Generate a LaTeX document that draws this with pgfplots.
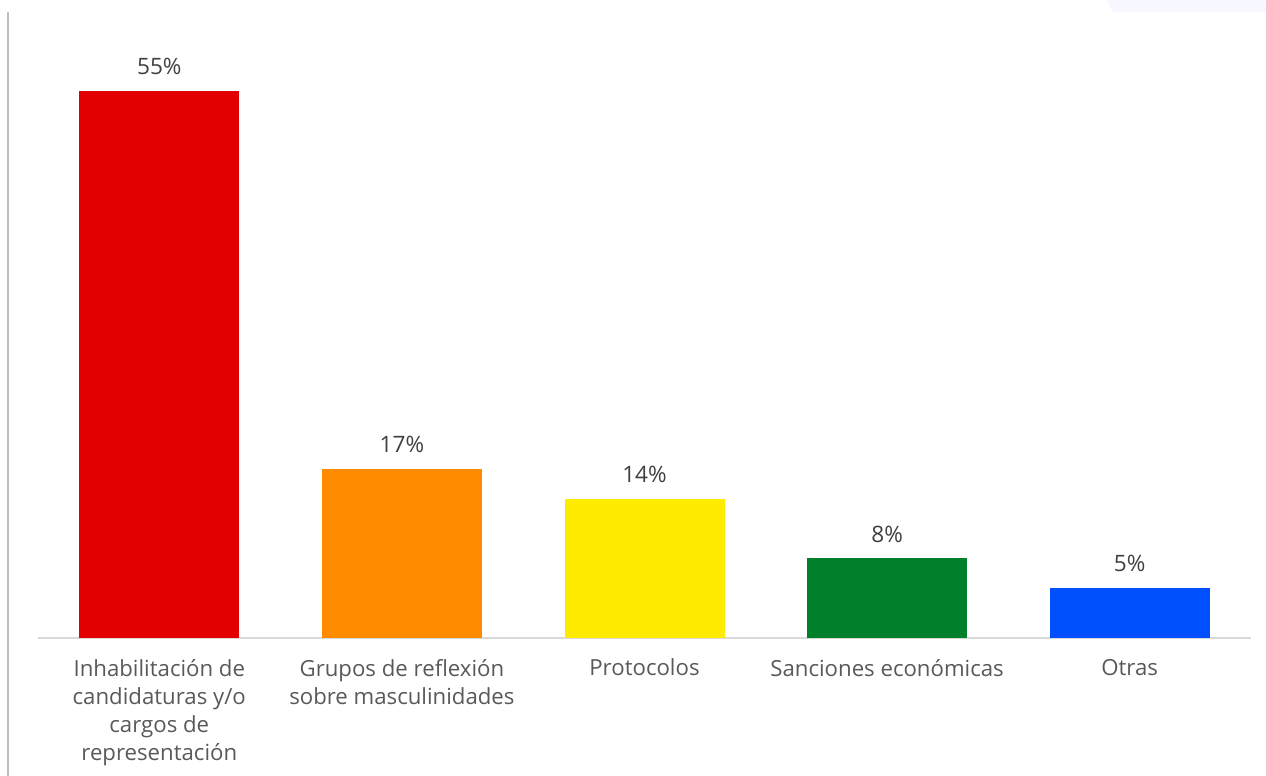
\documentclass[border=0pt]{standalone}
\usepackage{pgfplots}
\pgfplotsset{compat=1.18}
\usepackage{fontspec}
\setmainfont{Open Sans}
\definecolor{txt}{HTML}{595959}
\definecolor{lbl}{HTML}{404040}
\definecolor{cRed}{HTML}{E30000}
\definecolor{cOrange}{HTML}{FF8C00}
\definecolor{cYellow}{HTML}{FFEB00}
\definecolor{cGreen}{HTML}{00802A}
\definecolor{cBlue}{HTML}{0050FF}
\begin{document}
\begin{tikzpicture}[x=0.5pt,y=0.5pt]
\begin{axis}[
  anchor=south west, at={(19pt,69pt)},
  scale only axis, width=606.5pt, height=298.4pt,
  xmin=-0.5, xmax=4.5, ymin=0, ymax=60,
  axis x line=bottom, axis y line=none,
  axis line style={-, draw=black!15, line width=0.6pt},
  xtick={0,1,2,3,4}, major tick length=0pt,
  xticklabels={{Inhabilitación de\\candidaturas y/o\\cargos de\\representación},
    {Grupos de reflexión\\sobre masculinidades},{Protocolos},{Sanciones económicas},{Otras}},
  xticklabel style={align=center, font=\fontsize{11.1}{14}\selectfont, text=txt, yshift=-7pt},
  ybar, bar width=80pt, bar shift=0pt,
  every axis plot/.append style={draw=none},
  nodes near coords={\pgfmathprintnumber{\pgfplotspointmeta}\%},
  nodes near coords style={font=\fontsize{11.3}{13}\selectfont, text=lbl, yshift=4.5pt},
  /pgf/number format/assume math mode=true,
  clip=false,
]
\addplot[fill=cRed] coordinates {(0,55)};
\addplot[fill=cOrange] coordinates {(1,17)};
\addplot[fill=cYellow] coordinates {(2,14)};
\addplot[fill=cGreen] coordinates {(3,8)};
\addplot[fill=cBlue] coordinates {(4,5)};
\end{axis}
\draw[black!25, line width=0.8pt] (8,0) -- (8,764);
\fill[black!5!blue!3] (1107,776) -- (1113,764) -- (1266,764) -- (1266,776) -- cycle;
\pgfresetboundingbox
\path[use as bounding box] (0,0) rectangle (1266,776);
\end{tikzpicture}
\end{document}
